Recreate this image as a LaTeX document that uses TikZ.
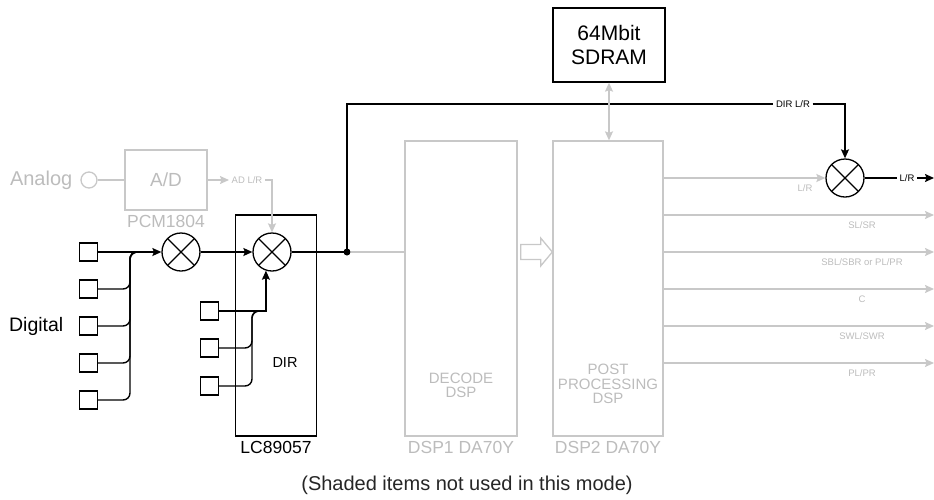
\documentclass[tikz,border=0pt]{standalone}
\usepackage{fontspec}
\setmainfont{Liberation Sans}
\usetikzlibrary{arrows.meta,calc}
\definecolor{lightg}{RGB}{200,200,200}
\definecolor{lightgtxt}{RGB}{188,188,188}
\begin{document}
\begin{tikzpicture}[x=1pt,y=-1pt,
  line width=1.4pt,
  box/.style={draw, rectangle, inner sep=0pt, line width=1.3pt},
  gbox/.style={box, draw=lightg},
  sq/.style={draw, rectangle, minimum size=18pt, inner sep=0pt, line width=1.3pt},
  mix/.style={draw, circle, minimum size=38pt, inner sep=0pt, line width=1.3pt,
    path picture={\draw[line width=1.3pt] (path picture bounding box.north west) -- (path picture bounding box.south east)
      (path picture bounding box.north east) -- (path picture bounding box.south west);}},
  arr/.style={-{Stealth[length=9pt,width=8pt,inset=1.5pt]}},
  darr/.style={{Stealth[length=9pt,width=8pt,inset=1.5pt]}-{Stealth[length=9pt,width=8pt,inset=1.5pt]}},
  bigtxt/.style={font=\fontsize{20}{22}\selectfont},
  lbl/.style={font=\fontsize{17.5}{20}\selectfont},
  mid/.style={font=\fontsize{15}{14.5}\selectfont, align=center},
  small/.style={font=\fontsize{9.5}{11}\selectfont, inner sep=2pt},
  gline/.style={draw=lightg, line width=1.4pt}
]
\useasboundingbox (0,0) rectangle (934,499);

% ---------- Analog / A/D ----------
\node[bigtxt, text=lightgtxt, anchor=east, inner sep=0pt] (analog) at (73,180) {Analog};
\node[draw=lightg, circle, minimum size=16pt, inner sep=0pt, line width=1.3pt] (ain) at (89,180) {};
\node[gbox, minimum width=82pt, minimum height=60pt, font=\fontsize{19}{22}\selectfont, text=lightgtxt] (ad) at (166,180) {A/D};
\node[lbl, text=lightgtxt] (pcm) at (166,221) {PCM1804};
\node[small, text=lightgtxt] (adlr) at (247,180) {AD L/R};

% ---------- LC89057 ----------
\node[box, minimum width=81pt, minimum height=221pt] (lc) at (276,325.5) {};
\node[lbl] (lclbl) at (276,447) {LC89057};
\node[font=\fontsize{14.5}{16}\selectfont] (dir) at (285,363) {DIR};

% ---------- mixers ----------
\node[mix] (m1) at (181,252) {};
\node[mix] (m2) at (272,252) {};
\node[mix] (m3) at (845,178) {};

% ---------- Digital inputs ----------
\node[font=\fontsize{19.5}{22}\selectfont, anchor=east, inner sep=0pt] (digital) at (64,326) {Digital};
\node[sq] (d1) at (88.5,252) {};
\node[sq] (d2) at (88.5,289) {};
\node[sq] (d3) at (88.5,326) {};
\node[sq] (d4) at (88.5,363) {};
\node[sq] (d5) at (88.5,400) {};

\node[sq] (s1) at (209.5,311) {};
\node[sq] (s2) at (209.5,348) {};
\node[sq] (s3) at (209.5,386) {};

% ---------- DSP blocks ----------
\node[gbox, minimum width=112pt, minimum height=295pt] (dec) at (461,288.5) {};
\node[mid, text=lightgtxt] (dectxt) at (461,385.5) {DECODE\\DSP};
\node[lbl, text=lightgtxt] (dsp1) at (461,447) {DSP1 DA70Y};

\node[gbox, minimum width=110pt, minimum height=295pt] (post) at (608,288.5) {};
\node[mid, text=lightgtxt] (posttxt) at (608,384) {POST\\PROCESSING\\DSP};
\node[lbl, text=lightgtxt] (dsp2) at (608,447) {DSP2 DA70Y};

\node[box, minimum width=112pt, minimum height=74pt, align=center,
      font=\fontsize{21}{24}\selectfont] (sdram) at (609,45) {64Mbit\\SDRAM};

% ---------- small labels ----------
\node[small] (dirlr) at (793,104) {DIR L/R};
\node[small] (outlr) at (907,178) {L/R};
\node[small, text=lightgtxt] (lrg) at (805,188) {L/R};

\coordinate (top) at (347,104);

% ---------- connectors: analog ----------
\draw[gline, line width=1.3pt] (ain.east) -- (ad.west);
\draw[gline, arr] (ad.east) -- (adlr.west);
\draw[gline, arr] (adlr.east) -| (m2.north);

% ---------- connectors: digital ----------
\draw[arr] (d1.east) -- (m1.west);
\foreach \n in {d2,d3,d4,d5}
  \draw[rounded corners=7pt] (\n.east) -| (130,252) -- (146,252);
\draw[arr] (m1.east) -- (m2.west);

\draw[arr] (s1.east) -| (m2.252);
\foreach \n in {s2,s3}
  \draw[rounded corners=7pt] (\n.east) -| (252,311) -- (262,311);

\node[circle, fill, inner sep=0pt, minimum size=7pt] (dot) at (347,252) {};
\draw (m2.east) -- (dot.center);
\draw (dot.center) -- (top) -- (dirlr.west);
\draw[arr] (dirlr.east) -| (m3.north);
\draw (m3.east) -- (outlr.west);
\coordinate (outend) at (934,178);
\draw[arr] (outlr.east) -- (outend);

% ---------- shaded connectors ----------
\draw[gline] (dot.east) -- (dot.center -| dec.west);
\draw[gline, darr] (sdram.south) -- (post.north -| sdram.south);
\draw[gline, arr] (post.east |- m3.west) -- (m3.west);

\coordinate (ha) at (dec.east |- dot);
\coordinate (hb) at (post.west |- dot);
\draw[gline, line width=1.3pt, fill=white]
  ($(ha)+(3,-7.5)$) -- ($(ha)+(23,-7.5)$) -- ($(ha)+(23,-14)$)
  -- (hb) -- ($(ha)+(23,14)$) -- ($(ha)+(23,7.5)$)
  -- ($(ha)+(3,7.5)$) -- cycle;

\foreach \y/\t in {215/SL\slash SR, 252/SBL\slash SBR or PL\slash PR, 289/C, 326/SWL\slash SWR, 363/PL\slash PR}{
  \coordinate (a\y) at (663,\y);
  \coordinate (b\y) at (934,\y);
  \draw[gline, arr] (a\y) -- (b\y);
  \node[small, text=lightgtxt] at (862,\y+10.5) {\t};
}

% ---------- caption ----------
\node[font=\fontsize{20}{22}\selectfont, text=black!85] (cap) at (467,485) {(Shaded items not used in this mode)};
\end{tikzpicture}
\end{document}
